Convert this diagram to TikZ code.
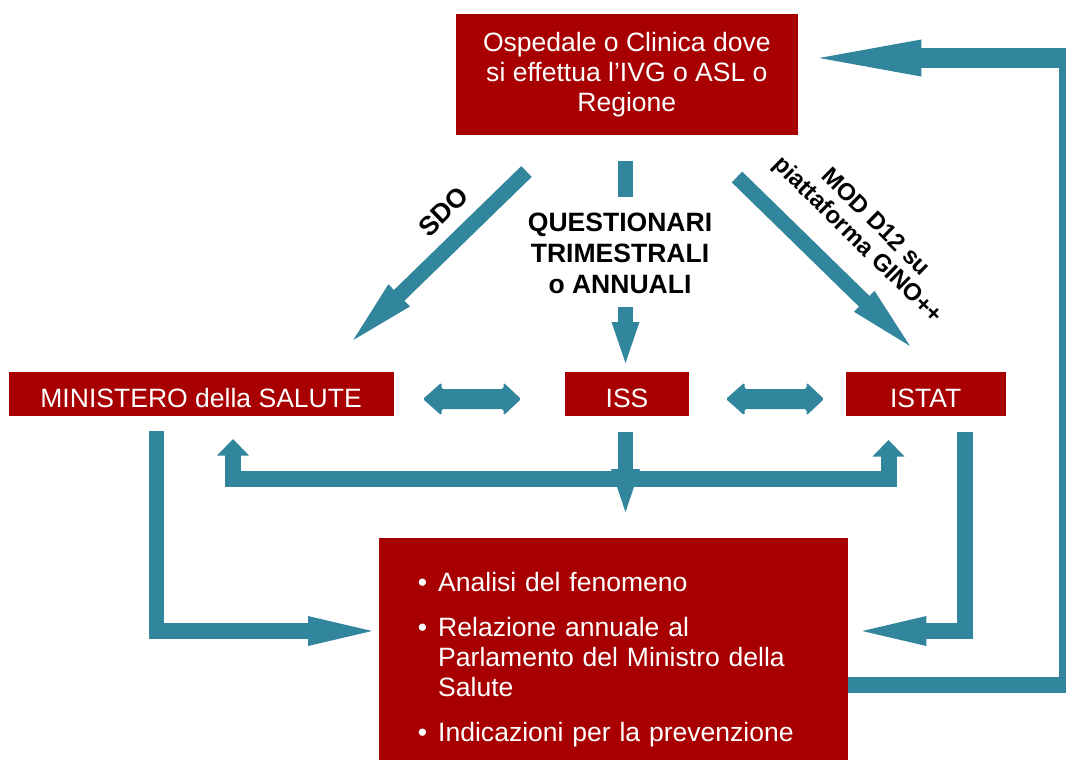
\documentclass[tikz,border=0pt]{standalone}
\usepackage{fontspec}
\setmainfont{Liberation Sans}
\usetikzlibrary{calc}
\definecolor{boxred}{HTML}{A80000}
\definecolor{flow}{HTML}{31859C}
\tikzset{
  redbox/.style={fill=boxred, text=white, inner sep=0pt, font=\fontsize{19.9pt}{22.5pt}\selectfont},
  lbl/.style={inner sep=0pt, align=center, font=\bfseries\fontsize{19.9pt}{23.25pt}\selectfont},
  flowline/.style={draw=flow, line width=#1, line join=miter, line cap=butt},
  dblarrow/.style={fill=flow, rounded corners=1.2pt},
}
\newcommand\arrhead[4]{%
  \coordinate (ahb) at ($(#2)!#3!(#1)$);
  \fill[flow] (#2) -- ($(ahb)!#4!90:(#2)$) -- ($(ahb)!#4!-90:(#2)$) -- cycle;}
\newcommand\fatarrow[5]{%
  \draw[flowline=#3] (#1) -- ($(#2)!#4-0.4pt!(#1)$);
  \arrhead{#1}{#2}{#4}{#5}}
\newcommand\dblarr[1]{%
  \fill[dblarrow] (#1) -- ++(18.5,-16.5) -- ++(0,6.5) -- ++(62,0) -- ++(0,-6.5)
    -- ++(17.5,16.5) -- ++(-17.5,16.5) -- ++(0,-6.5) -- ++(-62,0) -- ++(0,6.5) -- cycle;}
\begin{document}
\begin{tikzpicture}[x=0.75pt,y=-0.75pt]
\useasboundingbox (0,0) rectangle (1066,760);

% ---------- boxes ----------
\node[redbox, minimum width=256.3pt, minimum height=90.5pt, align=center] (src) at (626.85,74.35)
  {Ospedale o Clinica dove\\si effettua l’IVG o ASL o\\Regione};
\node[redbox, minimum width=288.75pt, minimum height=33pt, text height=19.5pt, text depth=0pt] (min) at (201.1,394) {MINISTERO della SALUTE};
\node[redbox, minimum width=93pt, minimum height=33pt, text height=19.5pt, text depth=0pt] (iss) at (627,394) {ISS};
\node[redbox, minimum width=120pt, minimum height=33pt, text height=19.5pt, text depth=0pt] (istat) at (925.65,394) {ISTAT};
\node[redbox, minimum width=351.75pt, minimum height=166.5pt] (res) at (613.5,649) {};
\node[inner sep=0pt, anchor=base west, text width=322pt, align=left, text=white,
      font=\fontsize{19.9pt}{22.5pt}\selectfont] (restext) at (417.7,591)
  {\makebox[15.2pt][l]{\textbullet}Analisi del fenomeno\\[11.25pt]
   \makebox[15.2pt][l]{\textbullet}Relazione annuale al\\
   \hspace*{15.2pt}Parlamento del Ministro della\\
   \hspace*{15.2pt}Salute\\[11.25pt]
   \makebox[15.2pt][l]{\textbullet}Indicazioni per la prevenzione};

% ---------- labels ----------
\node[lbl] (q) at (620,253.4) {QUESTIONARI\\TRIMESTRALI\\o ANNUALI};
\node[lbl, rotate=44.2] (sdo) at (443.5,211.5) {SDO};
\node[lbl, rotate=-44.5, font=\bfseries\fontsize{18pt}{19pt}\selectfont] (mod) at (866,232) {MOD D12 su\\piattaforma GINO++};

% ---------- arrows ----------
\coordinate (sdoS) at (526.5,171.5); \coordinate (sdoE) at (353.3,340);
\fatarrow{sdoS}{sdoE}{11.25pt}{48pt}{11.6pt}
\coordinate (modS) at (737,177); \coordinate (modE) at (910,346);
\fatarrow{modS}{modE}{11.25pt}{48pt}{11pt}

\coordinate (qS) at (625.5,161); \coordinate (qM) at (625.5,197);
\draw[flowline=11.25pt] (qS) -- (qM);
\coordinate (qA) at (625.5,307); \coordinate (qE) at (625.5,363);
\fatarrow{qA}{qE}{11.25pt}{30.75pt}{10.5pt}

\coordinate (issS) at (625.5,432); \coordinate (issE) at (625.5,512);
\fatarrow{issS}{issE}{11.25pt}{32.25pt}{10.9pt}

\coordinate (barL) at (233,479); \coordinate (barR) at (888.5,479);
\coordinate (upL) at (233,439); \coordinate (upR) at (888.5,440);
\draw[flowline=12pt] ($(upL)+(0,16)$) -- (barL) -- (barR) -- ($(upR)+(0,16)$);
\arrhead{barL}{upL}{12.4pt}{12pt}
\arrhead{barR}{upR}{12.4pt}{12pt}

\coordinate (mS) at (156.7,431); \coordinate (mC) at (156.7,631); \coordinate (mE) at (372,631);
\draw[flowline=11.6pt] (mS) -- (mC) -- ($(mE)+(-63.5,0)$);
\arrhead{mC}{mE}{48pt}{11.25pt}

\coordinate (tS) at (965,432); \coordinate (tC) at (965,631); \coordinate (tE) at (862.3,631);
\draw[flowline=11.6pt] (tS) -- (tC) -- ($(tE)+(63.5,0)$);
\arrhead{tC}{tE}{48pt}{11.25pt}

\coordinate (f0) at (res.east |- 0,684.5); \coordinate (f1) at (1067,684.5); \coordinate (f2) at (1067,48);
\draw[flowline=12pt] (f0) -- (f1) -- (f2);
\coordinate (f3) at (1075,58); \coordinate (fE) at (819.3,58);
\draw[flowline=15pt] (f3) -- ($(fE)+(101.5,0)$);
\arrhead{f3}{fE}{76.5pt}{13.9pt}

\coordinate (d1) at (423,399); \dblarr{d1}
\coordinate (d2) at (726,399); \dblarr{d2}
\end{tikzpicture}
\end{document}
